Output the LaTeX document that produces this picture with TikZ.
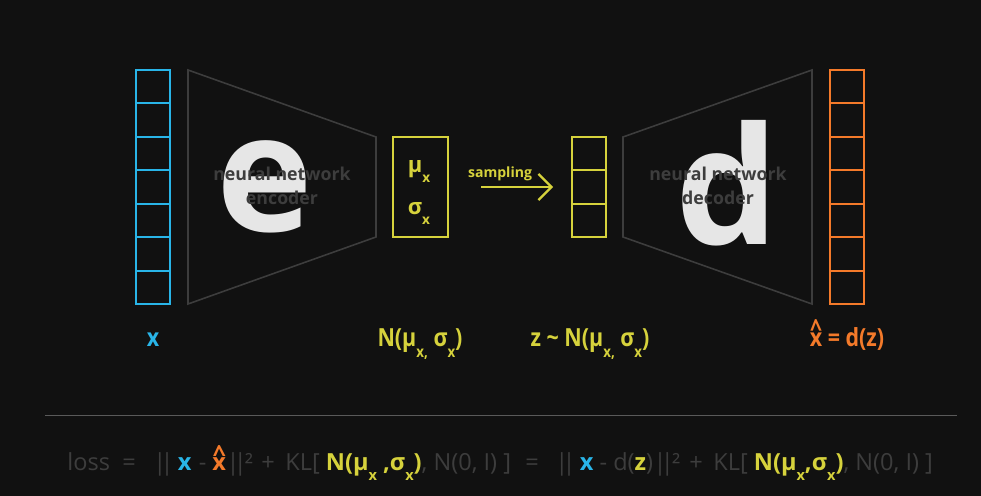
\documentclass[tikz,border=0pt]{standalone}
\usepackage{fontspec}
\setmainfont{Open Sans}
\newfontfamily\condfont[FakeStretch=0.86]{Open Sans}
\usetikzlibrary{arrows.meta}

\definecolor{bgdark}{HTML}{111111}
\definecolor{vaeblue}{HTML}{29B5E8}
\definecolor{vaeyellow}{HTML}{D6D23C}
\definecolor{vaeorange}{HTML}{F47A2A}
\definecolor{lettergray}{HTML}{E6E6E6}
\definecolor{darkgray}{HTML}{3D3D3D}

\newcommand{\lowtxt}[1]{\raisebox{-.42em}{\scalebox{.62}{#1}}}
\newcommand{\hatx}{\ooalign{x\cr\hidewidth\raisebox{.38em}{\char94}\hidewidth\cr}}
\newcommand{\dbar}{\textbar\kern-.24em\textbar}

\tikzset{
  cell/.style={line width=1.15pt},
  trap/.style={draw=darkgray, line width=0.9pt},
  bigletter/.style={anchor=base, inner sep=0, text=lettergray,
    font=\bfseries\fontsize{93}{93}\selectfont},
  netlabel/.style={align=center, inner sep=0, text=darkgray,
    font=\bfseries\fontsize{10.1}{14}\selectfont},
  collabel/.style={anchor=base, inner sep=0,
    font=\condfont\bfseries\fontsize{14.2}{16}\selectfont},
  losspart/.style={anchor=base west, inner sep=0, text=darkgray,
    font=\fontsize{13.4}{16}\selectfont}
}

\begin{document}
\begin{tikzpicture}[x=0.02cm, y=-0.02cm]
   \fill [bgdark] (0, 0) rectangle (981, 496);
   \useasboundingbox (0, 0) rectangle (981, 496);

   % input column x
   \draw [cell, vaeblue] (136, 70) rectangle (170, 304);
   \draw [cell, vaeblue] (136, 103.4) -- (170, 103.4);
   \draw [cell, vaeblue] (136, 136.9) -- (170, 136.9);
   \draw [cell, vaeblue] (136, 170.3) -- (170, 170.3);
   \draw [cell, vaeblue] (136, 203.7) -- (170, 203.7);
   \draw [cell, vaeblue] (136, 237.1) -- (170, 237.1);
   \draw [cell, vaeblue] (136, 270.6) -- (170, 270.6);

   % encoder
   \draw [trap] (188, 70) -- (376, 137) -- (376, 237) -- (188, 304) -- cycle;
   \node [bigletter] (bige) at (265, 232) {e};
   \node [netlabel] (enctext) at (282, 186) {neural network\\encoder};

   % mean and deviation
   \draw [cell, vaeyellow] (393, 137) rectangle (448, 237);
   \node [collabel, text=vaeyellow, font=\bfseries\fontsize{12.5}{14}\selectfont]
      (mutext) at (419, 173) {μ\lowtxt{x}};
   \node [collabel, text=vaeyellow, font=\bfseries\fontsize{12.5}{14}\selectfont]
      (sigmatext) at (419, 215) {σ\lowtxt{x}};

   % sampling
   \node [anchor=base, inner sep=0, text=vaeyellow, font=\bfseries\fontsize{8}{9}\selectfont]
      (samptext) at (500, 178) {sampling};
   \coordinate (sampstart) at (481, 187);
   \coordinate (sampend) at (553, 187);
   \draw [vaeyellow, line width=1.3pt, -{Straight Barb[length=2.6mm, width=5.2mm]}]
      (sampstart) -- (sampend);

   % latent column z
   \draw [cell, vaeyellow] (572, 137) rectangle (606, 237);
   \draw [cell, vaeyellow] (572, 170.3) -- (606, 170.3);
   \draw [cell, vaeyellow] (572, 203.7) -- (606, 203.7);

   % decoder
   \draw [trap] (623, 137) -- (812, 70) -- (812, 304) -- (623, 237) -- cycle;
   \node [bigletter] (bigd) at (727, 245) {d};
   \node [netlabel] (dectext) at (718, 186) {neural network\\decoder};

   % output column
   \draw [cell, vaeorange] (830, 70) rectangle (864, 304);
   \draw [cell, vaeorange] (830, 103.4) -- (864, 103.4);
   \draw [cell, vaeorange] (830, 136.9) -- (864, 136.9);
   \draw [cell, vaeorange] (830, 170.3) -- (864, 170.3);
   \draw [cell, vaeorange] (830, 203.7) -- (864, 203.7);
   \draw [cell, vaeorange] (830, 237.1) -- (864, 237.1);
   \draw [cell, vaeorange] (830, 270.6) -- (864, 270.6);

   % labels under the columns
   \node [collabel, text=vaeblue] (xlabel) at (153, 347) {x};
   \node [collabel, text=vaeyellow] (nlabel) at (420, 347)
      {N(μ\lowtxt{x,} σ\lowtxt{x})};
   \node [collabel, text=vaeyellow] (zlabel) at (590, 347)
      {z \char126{} N(μ\lowtxt{x,} σ\lowtxt{x})};
   \node [collabel, text=vaeorange] (xhatlabel) at (847, 347) {\hatx{} = d(z)};

   % loss
   \coordinate (ruleleft) at (45, 415.5);
   \coordinate (ruleright) at (957, 415.5);
   \draw [darkgray!85, line width=1.1pt] (ruleleft) -- (ruleright);

   \node [losspart] (lossword) at (67, 471) {loss};
   \node [losspart] (eqone) at (122, 471) {=};
   \node [losspart] (normone) at (153, 471)
      {\dbar\hspace{.18em}\textcolor{vaeblue}{\bfseries x}\hspace{.05em} -
       \textcolor{vaeorange}{\bfseries\hatx}\kern.02em\dbar\kern-.08em²};
   \node [losspart] (plusone) at (261, 471) {+};
   \node [losspart] (klone) at (285, 471)
      {KL[ \textcolor{vaeyellow}{\bfseries N(μ\lowtxt{x} ,σ\lowtxt{x})}, N(0, I) ]};
   \node [losspart] (eqtwo) at (525, 471) {=};
   \node [losspart] (normtwo) at (555, 471)
      {\dbar\hspace{.18em}\textcolor{vaeblue}{\bfseries x} - d(\textcolor{vaeyellow}{\bfseries z})\kern.02em\dbar\kern-.08em²};
   \node [losspart] (plustwo) at (689, 471) {+};
   \node [losspart] (kltwo) at (713, 471)
      {KL[ \textcolor{vaeyellow}{\bfseries N(μ\lowtxt{x},σ\lowtxt{x})}, N(0, I) ]};
\end{tikzpicture}
\end{document}
